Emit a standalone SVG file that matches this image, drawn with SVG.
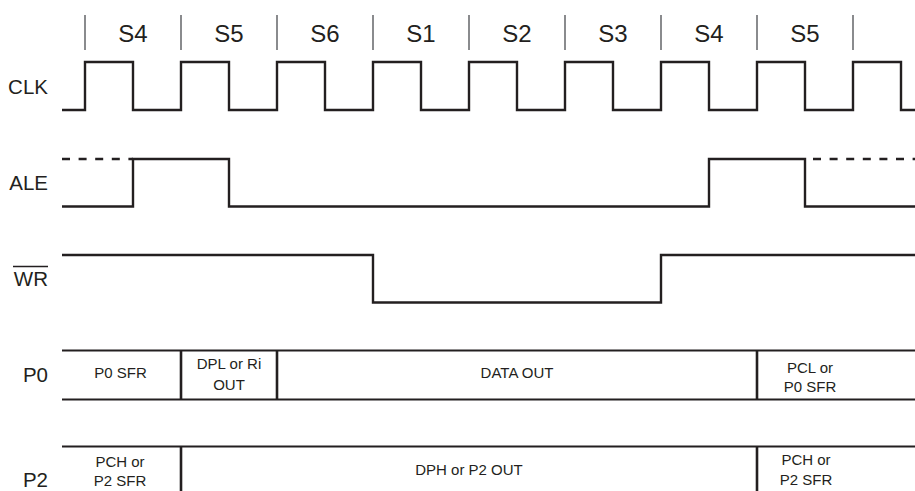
<svg xmlns="http://www.w3.org/2000/svg" width="915" height="491" viewBox="0 0 915 491">
<style>
text{font-family:"Liberation Sans",Arial,sans-serif;fill:#231f20}
.lbl{font-size:20.5px;text-anchor:end}
.st{font-size:24px;text-anchor:middle}
.cell{font-size:15px;text-anchor:middle}
.tick{stroke:#6d6e71;stroke-width:1.6}
.sig{fill:none;stroke:#231f20;stroke-width:2.4;stroke-linejoin:miter}
.bus{fill:none;stroke:#231f20;stroke-width:2}
.div{stroke:#231f20;stroke-width:2.6}
.dash{fill:none;stroke:#231f20;stroke-width:2.4;stroke-dasharray:8 8.6}
</style>
<rect width="915" height="491" fill="#fff"/>
<g id="states">
<line class="tick" x1="85" y1="15" x2="85" y2="50"/>
<line class="tick" x1="181" y1="15" x2="181" y2="50"/>
<line class="tick" x1="277" y1="15" x2="277" y2="50"/>
<line class="tick" x1="373" y1="15" x2="373" y2="50"/>
<line class="tick" x1="469" y1="15" x2="469" y2="50"/>
<line class="tick" x1="565" y1="15" x2="565" y2="50"/>
<line class="tick" x1="661" y1="15" x2="661" y2="50"/>
<line class="tick" x1="757" y1="15" x2="757" y2="50"/>
<line class="tick" x1="853" y1="15" x2="853" y2="50"/>
<text class="st" x="133" y="42">S4</text>
<text class="st" x="229" y="42">S5</text>
<text class="st" x="325" y="42">S6</text>
<text class="st" x="421" y="42">S1</text>
<text class="st" x="517" y="42">S2</text>
<text class="st" x="613" y="42">S3</text>
<text class="st" x="709" y="42">S4</text>
<text class="st" x="805" y="42">S5</text>
</g>
<g id="clk">
<text class="lbl" x="48" y="94">CLK</text>
<path class="sig" d="M62 110H85V62H133V110H181V62H229V110H277V62H325V110H373V62H421V110H469V62H517V110H565V62H613V110H661V62H709V110H757V62H805V110H853V62H901V110H915"/>
</g>
<g id="ale">
<text class="lbl" x="48" y="190">ALE</text>
<path class="dash" d="M62 159H133"/>
<path class="sig" d="M62 206.5H133V159H229V206.5H709V159H805V206.5H915"/>
<path class="dash" d="M813 159H915"/>
</g>
<g id="wr">
<text class="lbl" x="48" y="286">WR</text>
<line x1="13" y1="266.5" x2="48" y2="266.5" stroke="#231f20" stroke-width="1.6"/>
<path class="sig" d="M62 255H373V302.5H661V255H915"/>
</g>
<g id="p0">
<text class="lbl" x="48" y="382">P0</text>
<path class="bus" d="M62 350.5H915M62 399.5H915"/>
<line class="div" x1="181" y1="350" x2="181" y2="400"/>
<line class="div" x1="277" y1="350" x2="277" y2="400"/>
<line class="div" x1="757" y1="350" x2="757" y2="400"/>
<text class="cell" x="120.5" y="378">P0 SFR</text>
<text class="cell" x="229" y="369">DPL or Ri</text>
<text class="cell" x="229" y="390">OUT</text>
<text class="cell" x="517" y="378">DATA OUT</text>
<text class="cell" x="810" y="372.5">PCL or</text>
<text class="cell" x="810" y="392">P0 SFR</text>
</g>
<g id="p2">
<text class="lbl" x="48" y="486.5">P2</text>
<path class="bus" d="M62 446.5H915"/>
<line class="div" x1="181" y1="446" x2="181" y2="491"/>
<line class="div" x1="757" y1="446" x2="757" y2="491"/>
<text class="cell" x="120" y="466.5">PCH or</text>
<text class="cell" x="120" y="486">P2 SFR</text>
<text class="cell" x="469" y="475">DPH or P2 OUT</text>
<text class="cell" x="806" y="465">PCH or</text>
<text class="cell" x="806" y="485">P2 SFR</text>
</g>
</svg>
